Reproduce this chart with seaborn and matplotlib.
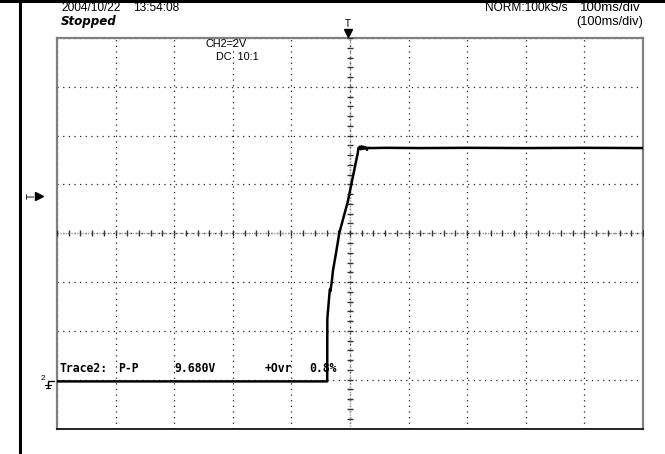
import numpy as np
import pandas as pd
import matplotlib.pyplot as plt
from matplotlib.lines import Line2D
import seaborn as sns

# trace: time in ms (100 ms/div), voltage in V (2 V/div)
time_ms = [-500, -38.9, -38.7, -38.5, -35.3, -34.3, -33.6, -31.2, -29.0, -23.9, -18.3,
           -10.5, -3.9, 2.9, 13.2, 14.4, 17.0, 18.5, 20.0, 21.5, 23.0, 24.5, 27.0,
           29.0, 30.5, 36.0, 60.0, 120.0, 200.0, 300.0, 400.0, 500.0]
volts = [-0.07, -0.07, 2.45, 2.55, 3.46, 3.70, 3.62, 3.99, 4.48, 5.18, 6.00,
         6.70, 7.28, 8.08, 9.28, 9.49, 9.55, 9.44, 9.56, 9.46, 9.54, 9.47, 9.52,
         9.42, 9.50, 9.49, 9.50, 9.49, 9.50, 9.49, 9.50, 9.49]

header_date = "2004/10/22"
header_time = "13:54:08"
header_mode = "NORM:100kS/s"
header_tdiv = "100ms/div"
header_tdiv2 = "(100ms/div)"
status = "Stopped"
ch_label = ["CH2=2V", "DC  10:1"]
meas = ["Trace2:", "P-P", "9.680V", "+Ovr", "0.8%"]

W, H = 665, 454
sns.set_style("white")
plt.rcParams['font.family'] = ['Liberation Sans', 'DejaVu Sans']
plt.rcParams['text.color'] = 'black'

fig = plt.figure(figsize=(W / 100, H / 100), dpi=100)
ax = fig.add_axes([57 / W, 1 - 428.5 / H, 586 / W, 390.5 / H])

df = pd.DataFrame({'t': time_ms, 'v': volts})
sns.lineplot(data=df, x='t', y='v', ax=ax, color='black', linewidth=1.8,
             estimator=None, sort=False, zorder=5)

ax.set_xlim(-500, 500)
ax.set_ylim(-2, 14)
ax.set_xticks(np.arange(-500, 501, 100))
ax.set_yticks(np.arange(-2, 15, 2))
ax.tick_params(length=0, labelbottom=False, labelleft=False)
ax.set_xlabel('')
ax.set_ylabel('')
ax.grid(True, color='#222222', linestyle=(0, (1, 3.5)), linewidth=0.9)

# centre axes with fine division ticks
ax.axvline(0, color='#999999', linestyle=(0, (1, 1)), linewidth=1.0, zorder=2)
ax.axhline(6, color='#999999', linestyle=(0, (1, 1)), linewidth=1.0, zorder=2)
ax.plot(np.zeros(41), np.arange(-2, 14.01, 0.4), linestyle='none', marker='_',
        markersize=4.5, color='#333333', markeredgewidth=1.0, zorder=3)
ax.plot(np.arange(-500, 501, 20), np.full(51, 6.0), linestyle='none', marker='|',
        markersize=4.5, color='#333333', markeredgewidth=1.0, zorder=3)

for side in ['left', 'top', 'right']:
    ax.spines[side].set_color('#808080')
    ax.spines[side].set_linewidth(1.6)
ax.spines['bottom'].set_color('black')
ax.spines['bottom'].set_linewidth(1.2)


def fx(px):
    return px / W


def fy(py):
    return 1 - py / H


# page frame lines
fig.add_artist(Line2D([0, 1], [fy(1), fy(1)], color='black', linewidth=2.2))
fig.add_artist(Line2D([fx(20), fx(20)], [0, fy(1)], color='black', linewidth=2.2))

fig.text(fx(61), fy(8), header_date, fontsize=8.6, va='center', ha='left')
fig.text(fx(133), fy(8), header_time, fontsize=8.6, va='center', ha='left')
fig.text(fx(61), fy(22), status, fontsize=8.6, va='center', ha='left',
         style='italic', fontweight='bold', family=['DejaVu Sans'])
fig.text(fx(485), fy(8), header_mode, fontsize=8.6, va='center', ha='left')
fig.text(fx(641), fy(8), header_tdiv, fontsize=9.6, va='center', ha='right')
fig.text(fx(643), fy(22), header_tdiv2, fontsize=9.2, va='center', ha='right')

fig.text(fx(205), fy(44), ch_label[0], fontsize=7.8, va='center', ha='left')
fig.text(fx(216), fy(57), ch_label[1], fontsize=7.8, va='center', ha='left')

# trigger position marker at top
fig.text(fx(348), fy(24), "T", fontsize=7, va='center', ha='center')
fig.add_artist(Line2D([fx(348)], [fy(33)], marker='v', markersize=5.5, color='black'))
# trigger level marker on the left
fig.text(fx(32), fy(196), "T", fontsize=7, va='center', ha='center', rotation=90)
fig.add_artist(Line2D([fx(39)], [fy(196)], marker='>', markersize=5.5, color='black'))
# ground marker for channel 2
fig.text(fx(43), fy(378), "2", fontsize=6, va='center', ha='center')
fig.add_artist(Line2D([fx(48), fx(48), fx(54)], [fy(388), fy(381), fy(381)],
                      color='black', linewidth=1))
for gy, half in [(385, 3), (388, 2)]:
    fig.add_artist(Line2D([fx(48 - half), fx(48 + half)], [fy(gy), fy(gy)],
                          color='black', linewidth=0.8))

mono = dict(fontsize=8.3, va='center', ha='left', family=['DejaVu Sans Mono'],
            fontweight='bold', zorder=6)
for px, s in zip([59, 118, 174, 265, 309], meas):
    fig.text(fx(px), fy(369), s, **mono)

fig.savefig('out.png', dpi=100)
